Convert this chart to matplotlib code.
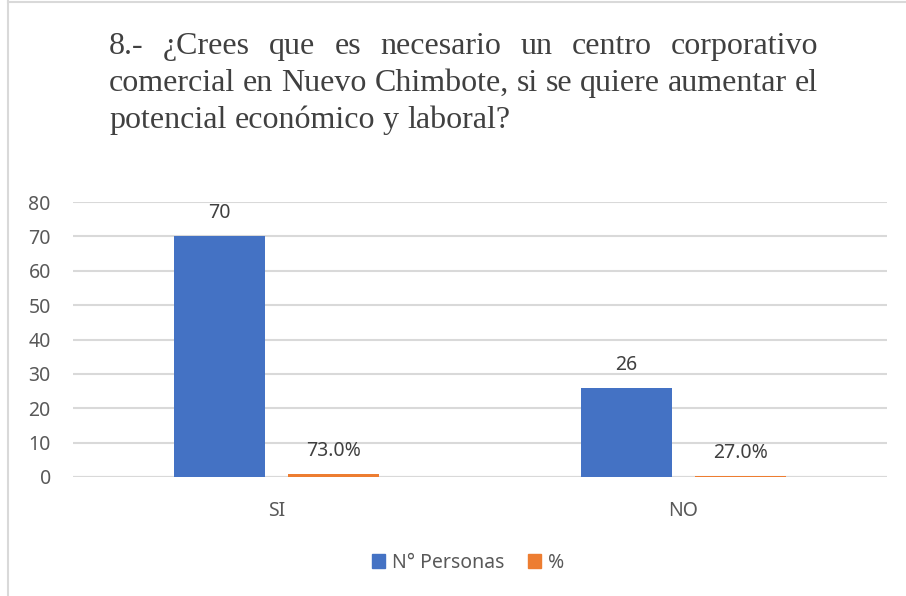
import matplotlib
matplotlib.use("Agg")
import matplotlib.pyplot as plt
import numpy as np
from matplotlib.lines import Line2D
from matplotlib.patches import Patch

# --- data ---
categories = ["SI", "NO"]
personas = [70, 26]
porcentaje = [0.73, 0.27]
pct_labels = ["73.0%", "27.0%"]
series_names = ["N° Personas", "%"]
title_lines = [
    "8.- ¿Crees que es necesario un centro corporativo",
    "comercial en Nuevo Chimbote, si se quiere aumentar el",
    "potencial económico y laboral?",
]

BLUE = "#4472C4"
ORANGE = "#ED7D31"
TXT = "#595959"
GRID = "#D9D9D9"

W, H = 906, 596
fig = plt.figure(figsize=(W / 100, H / 100), dpi=100)
plt.rcParams["font.family"] = ["Noto Sans", "DejaVu Sans"]

ax = fig.add_axes([73 / W, 1 - 477 / H, (887 - 73) / W, (477 - 202) / H])

x = np.arange(len(categories))
bw = 0.224
off = 0.141
b1 = ax.bar(x - off, personas, bw, color=BLUE, zorder=3)
b2 = ax.bar(x + off, porcentaje, bw, color=ORANGE, zorder=3)

for rect, v in zip(b1, personas):
    ax.annotate(str(v), (rect.get_x() + rect.get_width() / 2, rect.get_height()),
                xytext=(0, 13), textcoords="offset points",
                ha="center", va="baseline", fontsize=14, color="#404040")
for rect, lab in zip(b2, pct_labels):
    ax.annotate(lab, (rect.get_x() + rect.get_width() / 2, rect.get_height()),
                xytext=(0, 13), textcoords="offset points",
                ha="center", va="baseline", fontsize=14, color="#404040")

ax.set_xlim(-0.5, 1.5)
ax.set_ylim(0, 80)
ax.set_yticks(range(0, 81, 10))
ax.set_xticks(x)
ax.set_xticklabels(categories)
ax.tick_params(axis="y", length=0, pad=16, labelsize=14, labelcolor=TXT)
ax.tick_params(axis="x", length=0, pad=17, labelsize=14, labelcolor=TXT)
ax.grid(axis="y", color=GRID, linewidth=1.5, zorder=0)
for s in ax.spines.values():
    s.set_visible(False)
ax.axhline(0, color=GRID, linewidth=1.5, zorder=2)

handles = [Patch(color=BLUE), Patch(color=ORANGE)]
fig.legend(handles, series_names, loc="center", bbox_to_anchor=(468 / W, 1 - 563 / H),
           ncol=2, frameon=False, fontsize=14, labelcolor=TXT,
           handlelength=0.7, handleheight=0.7, handletextpad=0.35, columnspacing=1.2)

# --- justified serif title ---
fig.canvas.draw()
rend = fig.canvas.get_renderer()
tfont = dict(family="Liberation Serif", fontsize=23, color="#404040")
x0, x1 = 109, 818
baselines = [54, 91, 128]


def word_width(w):
    t = fig.text(0, 0, w, **tfont)
    wd = t.get_window_extent(rend).width
    t.remove()
    return wd


space_w = word_width("a a") - word_width("aa")
for i, line in enumerate(title_lines):
    words = line.split(" ")
    widths = [word_width(w) for w in words]
    if i < len(title_lines) - 1:
        gap = max((x1 - x0 - sum(widths)) / (len(words) - 1), 0.5 * space_w)
    else:
        gap = space_w
    cx = x0
    for w, wd in zip(words, widths):
        fig.text(cx / W, 1 - baselines[i] / H, w, va="baseline", ha="left", **tfont)
        cx += wd + gap

# chart frame edges (only top and left visible)
fig.add_artist(Line2D([8 / W, 8 / W], [0, 1], color=GRID, lw=1.5, transform=fig.transFigure))
fig.add_artist(Line2D([8 / W, 1], [1 - 2 / H, 1 - 2 / H], color=GRID, lw=1.5, transform=fig.transFigure))

fig.savefig("out.png", dpi=100)
